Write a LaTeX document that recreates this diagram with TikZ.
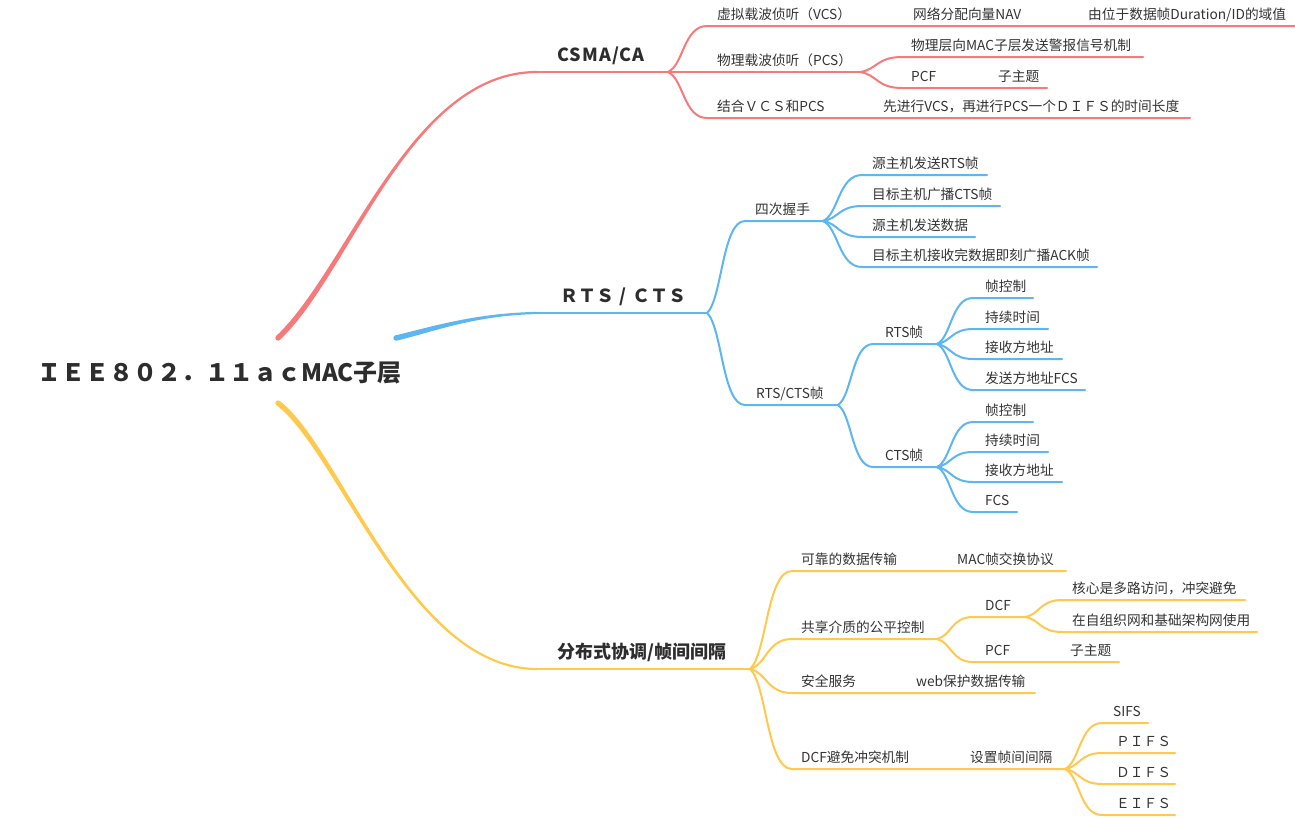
\documentclass[tikz,border=0pt]{standalone}
\usepackage{fontspec}
\setmainfont{Noto Sans CJK SC}
\usetikzlibrary{calc}
\definecolor{mmred}{RGB}{247,122,122}
\definecolor{mmblue}{RGB}{93,182,240}
\definecolor{mmyel}{RGB}{255,201,77}
\definecolor{txtc}{RGB}{52,52,52}
\definecolor{txtb}{RGB}{45,45,45}
% connector: from branch point #2 to child start #3, then straight to line end #4
\newcommand\mmc[4][]{\draw[#1] let \p1=(#2), \p2=(#3) in (\p1) .. controls ({\x1+0.4*(\x2-\x1)},{\y1+0.15*(\y2-\y1)}) and ({\x1+0.4*(\x2-\x1)},\y2) .. (\p2) -- (#4);}
% tapered main branch
\newcommand\taper[6]{%
 \fill[#1] ($(#2)!#6!90:(#3)$) .. controls ($(#3)!#6!-90:(#2)$) and ($(#4)!1.1pt!90:(#5)$) .. ($(#5)!1.1pt!-90:(#4)$) -- ($(#5)!1.1pt!90:(#4)$) .. controls ($(#4)!1.1pt!-90:(#5)$) and ($(#3)!#6!90:(#2)$) .. ($(#2)!#6!-90:(#3)$) -- cycle;
 \fill[#1] (#2) circle[radius=#6];}
\tikzset{
  t/.style={anchor=base west, inner sep=0pt, text=txtc, font=\fontsize{13.7}{16}\selectfont},
  tb/.style={anchor=base west, inner sep=0pt, text=txtb, font=\fontsize{18}{22}\selectfont\bfseries},
  rl/.style={draw=mmred, line width=2pt, line cap=round},
  bl/.style={draw=mmblue, line width=2pt, line cap=round},
  yl/.style={draw=mmyel, line width=2pt, line cap=round},
}
\begin{document}
\begin{tikzpicture}[x=1pt,y=-1pt]
\useasboundingbox[fill=white] (0,0) rectangle (1295,817);
% root
\node[anchor=base west, inner sep=0pt, text=txtb, font=\fontsize{24}{28}\selectfont\bfseries] (root) at (37,381) {ＩＥＥ８０２．１１ａｃMAC子层};

% ---------------- red: CSMA/CA
\coordinate (r0) at (278,338); \coordinate (r1) at (350,270); \coordinate (r2) at (410,72);
\coordinate (r) at (537,72); \coordinate (rE) at (668,72);
\taper{mmred}{r0}{r1}{r2}{r}{2.7pt}
\draw[rl, line width=2.2pt] (r) -- (rE);
\node[tb, font=\fontsize{18}{22}\selectfont\bfseries\addfontfeature{LetterSpace=6}] (tr) at (557,61) {CSMA/CA};

\coordinate (ra) at (707,26); \coordinate (raE) at (1295,26);
\mmc[rl]{rE}{ra}{raE}
\node[t] (tra) at (717,19) {虚拟载波侦听（VCS）};
\node[t] (tra1) at (913,19) {网络分配向量NAV};
\node[t] (tra2) at (1088,19) {由位于数据帧Duration/ID的域值};

\coordinate (rb) at (707,72); \coordinate (rbE) at (860,72);
\mmc[rl]{rE}{rb}{rbE}
\node[t] (trb) at (717,65) {物理载波侦听（PCS）};
\coordinate (rb1) at (902,57); \coordinate (rb1E) at (1143,57);
\mmc[rl]{rbE}{rb1}{rb1E}
\node[t] (trb1) at (911,50) {物理层向MAC子层发送警报信号机制};
\coordinate (rb2) at (902,88); \coordinate (rb2E) at (1047,88);
\mmc[rl]{rbE}{rb2}{rb2E}
\node[t] (trb2) at (911,81) {PCF};
\node[t] (trb21) at (998,81) {子主题};

\coordinate (rc) at (707,118); \coordinate (rcE) at (1190,118);
\mmc[rl]{rE}{rc}{rcE}
\node[t] (trc) at (717,111) {结合ＶＣＳ和PCS};
\node[t] (trc1) at (883,111) {先进行VCS，再进行PCS一个ＤＩＦＳ的时间长度};

% ---------------- blue: RTS/CTS
\coordinate (b0) at (396,338); \coordinate (b1) at (430,330); \coordinate (b2) at (475,314);
\coordinate (b) at (537,313); \coordinate (bE) at (707,313);
\taper{mmblue}{b0}{b1}{b2}{b}{2.7pt}
\draw[bl, line width=2.2pt] (b) -- (bE);
\node[tb] (tb) at (560,302) {ＲＴＳ\makebox[18pt]{/}ＣＴＳ};

\coordinate (ba) at (745,221); \coordinate (baE) at (823,221);
\mmc[bl]{bE}{ba}{baE}
\node[t] (tba) at (755,214) {四次握手};
\coordinate (ba1) at (862,175); \coordinate (ba1E) at (987,175);
\mmc[bl]{baE}{ba1}{ba1E}
\node[t] (tba1) at (872,168) {源主机发送RTS帧};
\coordinate (ba2) at (862,206); \coordinate (ba2E) at (1000,206);
\mmc[bl]{baE}{ba2}{ba2E}
\node[t] (tba2) at (872,199) {目标主机广播CTS帧};
\coordinate (ba3) at (862,237); \coordinate (ba3E) at (975,237);
\mmc[bl]{baE}{ba3}{ba3E}
\node[t] (tba3) at (872,230) {源主机发送数据};
\coordinate (ba4) at (862,267); \coordinate (ba4E) at (1097,267);
\mmc[bl]{baE}{ba4}{ba4E}
\node[t] (tba4) at (872,260) {目标主机接收完数据即刻广播ACK帧};

\coordinate (bb) at (745,405); \coordinate (bbE) at (838,405);
\mmc[bl]{bE}{bb}{bbE}
\node[t] (tbb) at (756,398) {RTS/CTS帧};

\coordinate (bb1) at (873,344); \coordinate (bb1E) at (937,344);
\mmc[bl]{bbE}{bb1}{bb1E}
\node[t] (tbb1) at (885,337) {RTS帧};
\coordinate (bb11) at (973,298); \coordinate (bb11E) at (1033,298);
\mmc[bl]{bb1E}{bb11}{bb11E}
\node[t] (tbb11) at (985,291) {帧控制};
\coordinate (bb12) at (973,329); \coordinate (bb12E) at (1048,329);
\mmc[bl]{bb1E}{bb12}{bb12E}
\node[t] (tbb12) at (985,322) {持续时间};
\coordinate (bb13) at (973,359); \coordinate (bb13E) at (1062,359);
\mmc[bl]{bb1E}{bb13}{bb13E}
\node[t] (tbb13) at (985,352) {接收方地址};
\coordinate (bb14) at (973,390); \coordinate (bb14E) at (1085,390);
\mmc[bl]{bb1E}{bb14}{bb14E}
\node[t] (tbb14) at (985,383) {发送方地址FCS};

\coordinate (bb2) at (873,467); \coordinate (bb2E) at (937,467);
\mmc[bl]{bbE}{bb2}{bb2E}
\node[t] (tbb2) at (885,460) {CTS帧};
\coordinate (bb21) at (973,422); \coordinate (bb21E) at (1033,422);
\mmc[bl]{bb2E}{bb21}{bb21E}
\node[t] (tbb21) at (985,415) {帧控制};
\coordinate (bb22) at (973,452); \coordinate (bb22E) at (1048,452);
\mmc[bl]{bb2E}{bb22}{bb22E}
\node[t] (tbb22) at (985,445) {持续时间};
\coordinate (bb23) at (973,482); \coordinate (bb23E) at (1062,482);
\mmc[bl]{bb2E}{bb23}{bb23E}
\node[t] (tbb23) at (985,475) {接收方地址};
\coordinate (bb24) at (973,512); \coordinate (bb24E) at (1017,512);
\mmc[bl]{bb2E}{bb24}{bb24E}
\node[t] (tbb24) at (985,505) {FCS};

% ---------------- yellow
\coordinate (y0) at (278,403); \coordinate (y1) at (340,450); \coordinate (y2) at (410,669);
\coordinate (y) at (537,669); \coordinate (yE) at (750,669);
\taper{mmyel}{y0}{y1}{y2}{y}{2.7pt}
\draw[yl, line width=2.2pt] (y) -- (yE);
\node[tb] (ty) at (557,658) {分布式协调/帧间间隔};

\coordinate (ya) at (792,571); \coordinate (yaE) at (1066,571);
\mmc[yl]{yE}{ya}{yaE}
\node[t] (tya) at (801,564) {可靠的数据传输};
\node[t] (tya1) at (957,564) {MAC帧交换协议};

\coordinate (yb) at (792,639); \coordinate (ybE) at (937,639);
\mmc[yl]{yE}{yb}{ybE}
\node[t] (tyb) at (801,632) {共享介质的公平控制};
\coordinate (yb1) at (973,617); \coordinate (yb1E) at (1025,617);
\mmc[yl]{ybE}{yb1}{yb1E}
\node[t] (tyb1) at (985,610) {DCF};
\coordinate (yb11) at (1062,600); \coordinate (yb11E) at (1245,600);
\mmc[yl]{yb1E}{yb11}{yb11E}
\node[t] (tyb11) at (1072,593) {核心是多路访问，冲突避免};
\coordinate (yb12) at (1062,632); \coordinate (yb12E) at (1257,632);
\mmc[yl]{yb1E}{yb12}{yb12E}
\node[t] (tyb12) at (1072,625) {在自组织网和基础架构网使用};
\coordinate (yb2) at (973,662); \coordinate (yb2E) at (1119,662);
\mmc[yl]{ybE}{yb2}{yb2E}
\node[t] (tyb2) at (985,655) {PCF};
\node[t] (tyb21) at (1070,655) {子主题};

\coordinate (yc) at (792,693); \coordinate (ycE) at (1035,693);
\mmc[yl]{yE}{yc}{ycE}
\node[t] (tyc) at (801,686) {安全服务};
\node[t] (tyc1) at (916,686) {web保护数据传输};

\coordinate (yd) at (792,769); \coordinate (ydE) at (1065,769);
\mmc[yl]{yE}{yd}{ydE}
\node[t] (tyd) at (801,762) {DCF避免冲突机制};
\node[t] (tyd0) at (970,762) {设置帧间间隔};
\coordinate (yd1) at (1102,723); \coordinate (yd1E) at (1148,723);
\mmc[yl]{ydE}{yd1}{yd1E}
\node[t] (tyd1) at (1113,716) {SIFS};
\coordinate (yd2) at (1102,753); \coordinate (yd2E) at (1175,753);
\mmc[yl]{ydE}{yd2}{yd2E}
\node[t] (tyd2) at (1116,746) {ＰＩＦＳ};
\coordinate (yd3) at (1102,784); \coordinate (yd3E) at (1175,784);
\mmc[yl]{ydE}{yd3}{yd3E}
\node[t] (tyd3) at (1116,777) {ＤＩＦＳ};
\coordinate (yd4) at (1102,815); \coordinate (yd4E) at (1175,815);
\mmc[yl]{ydE}{yd4}{yd4E}
\node[t] (tyd4) at (1116,808) {ＥＩＦＳ};
\end{tikzpicture}
\end{document}
